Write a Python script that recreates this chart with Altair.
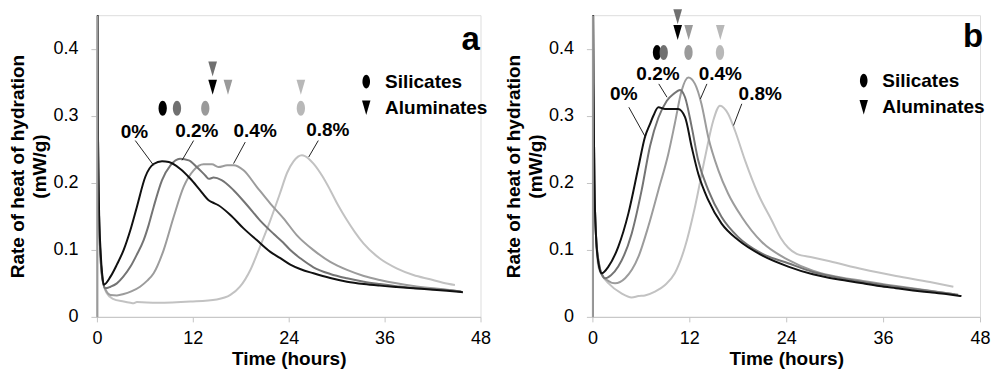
import altair as alt
import pandas as pd

FONT = "Liberation Sans"

series_names = ["0%", "0.2%", "0.4%", "0.8%"]
line_colors = ["#111111", "#747474", "#9c9c9c", "#c2c2c2"]
marker_colors = ["#000000", "#707070", "#9a9a9a", "#b8b8b8"]

# ---------------- Panel a : time (h) / rate (mW/g) ----------------
a_t_0 = [0, 0.02, 0.12, 0.25, 0.45, 0.65, 0.85, 1.7, 2.5, 3.35, 4.2, 5.0, 6.06, 7.1, 8.15, 9.0, 10.4, 11.7,
         12.9, 13.98, 14.4, 15.2, 16.7, 18.35, 20.0, 21.7, 22.9, 24.2, 25.5, 27.1, 29.2, 31.3, 33.4, 35.4,
         37.5, 39.6, 41.7, 43.8, 45.8]
a_r_0 = [0, 0.6, 0.3, 0.17, 0.1, 0.065, 0.048, 0.06, 0.078, 0.1, 0.13, 0.164, 0.209, 0.228, 0.232, 0.231,
         0.221, 0.206, 0.189, 0.174, 0.171, 0.1665, 0.152, 0.132, 0.1145, 0.097, 0.088, 0.078, 0.071, 0.065,
         0.058, 0.0525, 0.049, 0.0466, 0.0445, 0.0426, 0.041, 0.039, 0.0367]

a_t_2 = [0, 0.02, 0.12, 0.25, 0.45, 0.7, 1.06, 1.7, 2.5, 3.3, 4.2, 5.0, 5.85, 6.5, 7.1, 8.15, 9.2, 10.4,
         11.5, 12.5, 13.56, 14.0, 14.6, 15.6, 17.1, 18.8, 20.4, 22.1, 23.3, 24.2, 25.5, 27.1, 29.2, 31.3,
         33.4, 35.4, 37.5, 39.6, 41.7, 43.8, 45.6]
a_r_2 = [0, 0.6, 0.3, 0.16, 0.09, 0.055, 0.0427, 0.045, 0.05, 0.06, 0.075, 0.093, 0.1145, 0.138, 0.164,
         0.204, 0.226, 0.236, 0.2335, 0.2235, 0.211, 0.206, 0.2077, 0.204, 0.189, 0.1665, 0.144, 0.124,
         0.111, 0.0996, 0.087, 0.074, 0.064, 0.0575, 0.0525, 0.049, 0.0458, 0.043, 0.0415, 0.040, 0.038]

a_t_4 = [0, 0.02, 0.12, 0.25, 0.45, 0.8, 1.2, 1.7, 2.5, 3.35, 4.3, 5.4, 6.3, 7.1, 8.35, 9.6, 10.85, 12.1,
         13.35, 14.4, 15.2, 16.3, 17.1, 18.35, 20.0, 21.7, 23.35, 25.0, 27.1, 29.2, 31.3, 33.4, 35.4, 37.5,
         39.6, 41.7, 43.8, 45.5]
a_r_4 = [0, 0.6, 0.3, 0.16, 0.09, 0.05, 0.038, 0.0327, 0.032, 0.034, 0.038, 0.045, 0.054, 0.065, 0.0996,
         0.149, 0.194, 0.2186, 0.2275, 0.2275, 0.2235, 0.226, 0.226, 0.2186, 0.194, 0.169, 0.147, 0.122,
         0.0996, 0.082, 0.07, 0.061, 0.055, 0.050, 0.046, 0.043, 0.0405, 0.038]

a_t_8 = [0, 0.02, 0.12, 0.25, 0.45, 0.8, 1.2, 2.0, 3.35, 4.2, 4.6, 5.0, 7.5, 11.7, 15.0, 16.7, 17.9, 19.2,
         20.4, 21.7, 22.9, 23.8, 24.6, 25.65, 26.5, 27.1, 28.2, 29.2, 30.2, 31.3, 32.3, 33.35, 35.4, 37.5,
         39.6, 41.7, 43.3, 44.8]
a_r_8 = [0, 0.6, 0.3, 0.16, 0.09, 0.05, 0.036, 0.027, 0.0228, 0.021, 0.0204, 0.022, 0.021, 0.0228, 0.026,
         0.0327, 0.045, 0.07, 0.1045, 0.144, 0.184, 0.215, 0.232, 0.241, 0.236, 0.2285, 0.21, 0.189, 0.166,
         0.144, 0.126, 0.1095, 0.087, 0.0724, 0.0625, 0.056, 0.051, 0.0476]

# ---------------- Panel b ----------------
b_t_0 = [0, 0.02, 0.12, 0.25, 0.45, 0.75, 1.15, 1.98, 3.2, 4.45, 5.7, 6.5, 7.14, 7.55, 8.17, 9.0, 10.6,
         11.47, 12.3, 13.1, 14.35, 16.0, 18.06, 20.95, 24.25, 27.3, 29.4, 31.5, 33.5, 35.5, 37.6, 39.7,
         41.8, 43.8, 45.7]
b_r_0 = [0, 0.6, 0.35, 0.2, 0.12, 0.08, 0.065, 0.075, 0.1045, 0.154, 0.2235, 0.268, 0.288, 0.300, 0.3127,
         0.310, 0.310, 0.298, 0.253, 0.2137, 0.174, 0.139, 0.1145, 0.092, 0.075, 0.0635, 0.058, 0.054,
         0.050, 0.046, 0.0427, 0.0395, 0.0367, 0.034, 0.031]

b_t_2 = [0, 0.02, 0.12, 0.25, 0.45, 0.8, 1.2, 1.57, 2.3, 3.2, 4.86, 6.1, 7.14, 8.17, 9.2, 10.1, 10.85,
         11.47, 12.3, 13.1, 14.35, 16.0, 18.06, 20.95, 24.25, 27.3, 29.4, 33.5, 37.6, 41.8, 45.3]
b_r_2 = [0, 0.6, 0.35, 0.2, 0.12, 0.08, 0.063, 0.0575, 0.062, 0.075, 0.124, 0.189, 0.255, 0.297, 0.322,
         0.333, 0.3385, 0.3276, 0.283, 0.2335, 0.189, 0.149, 0.119, 0.0947, 0.080, 0.067, 0.061, 0.052,
         0.045, 0.0385, 0.033]

b_t_4 = [0, 0.02, 0.12, 0.25, 0.45, 0.8, 1.2, 1.8, 2.8, 4.05, 5.7, 6.9, 8.17, 9.4, 10.2, 11.05, 11.88,
         12.7, 13.5, 14.35, 15.6, 16.8, 18.5, 20.95, 24.25, 27.3, 29.4, 33.5, 37.6, 41.8, 44.9]
b_r_4 = [0, 0.6, 0.35, 0.2, 0.12, 0.08, 0.062, 0.055, 0.050, 0.0575, 0.0897, 0.134, 0.189, 0.243, 0.288,
         0.3375, 0.357, 0.3475, 0.318, 0.268, 0.2186, 0.184, 0.149, 0.112, 0.085, 0.069, 0.062, 0.0535,
         0.046, 0.039, 0.0335]

b_t_8 = [0, 0.02, 0.12, 0.25, 0.45, 0.74, 1.2, 2.0, 3.6, 4.86, 5.7, 6.5, 7.75, 9.0, 10.2, 11.47, 12.7,
         13.95, 14.97, 15.8, 16.8, 17.65, 18.9, 20.5, 22.2, 23.3, 24.25, 25.3, 27.3, 29.4, 33.5, 37.6,
         41.8, 44.7]
b_r_8 = [0, 0.6, 0.35, 0.2, 0.12, 0.075, 0.062, 0.05, 0.035, 0.029, 0.031, 0.032, 0.0377, 0.0476, 0.065,
         0.1045, 0.164, 0.238, 0.293, 0.315, 0.303, 0.278, 0.2335, 0.184, 0.144, 0.118, 0.103, 0.094,
         0.0887, 0.083, 0.071, 0.061, 0.052, 0.045]

# peak markers (silicates = ellipse, aluminates = triangle)
a_sil_t = [8.23, 10.02, 13.56, 25.52]
a_sil_r = [0.311, 0.311, 0.311, 0.311]
a_alu_t = [14.48, 14.48, 16.4, 25.52]
a_alu_r = [0.3425, 0.3698, 0.3425, 0.3425]

b_sil_t = [8.0, 8.83, 11.9, 15.8]
b_sil_r = [0.3945, 0.3945, 0.3945, 0.3945]
b_alu_t = [10.56, 10.56, 11.92, 15.84]
b_alu_r = [0.4242, 0.4475, 0.4242, 0.4242]

# series labels and their leader lines
a_lab_t = [4.69, 12.5, 19.8, 28.9]
a_lab_r = [0.2755, 0.2766, 0.2766, 0.278]
a_lead_t1 = [4.8, 12.1, 18.56, 27.7]
a_lead_r1 = [0.263, 0.263, 0.2607, 0.263]
a_lead_t2 = [7.1, 10.65, 17.1, 26.5]
a_lead_r2 = [0.226, 0.2335, 0.2286, 0.2384]

b_lab_t = [3.89, 8.12, 15.84, 20.78]
b_lab_r = [0.3326, 0.3623, 0.3623, 0.3326]
b_lead_t1 = [4.51, 8.22, 14.18, 18.5]
b_lead_r1 = [0.3127, 0.3475, 0.3475, 0.3178]
b_lead_t2 = [6.57, 9.24, 13.37, 17.48]
b_lead_r2 = [0.268, 0.3276, 0.325, 0.2855]

legend_names = ["Silicates", "Aluminates"]
a_leg = dict(sym_t=33.7, txt_t=36.06, r=[0.351, 0.312])
b_leg = dict(sym_t=33.6, txt_t=35.9, r=[0.3524, 0.3127])

ELLIPSE = "M0,-1 A0.55,1 0 1,1 0,1 A0.55,1 0 1,1 0,-1 Z"
TRIANGLE = "M-0.58,-1 L0.58,-1 L0,1 Z"

x_scale = alt.Scale(domain=[0, 48], nice=False, zero=False)
y_scale = alt.Scale(domain=[0, 0.45], nice=False)

x_axis = alt.Axis(values=[0, 12, 24, 36, 48], title="Time (hours)", grid=False,
                  labelFont=FONT, labelFontSize=18, labelColor="#000", labelPadding=8,
                  labelFlush=False, labelOverlap=False,
                  titleFont=FONT, titleFontSize=19, titleFontWeight="bold", titleColor="#000",
                  titlePadding=2, domainColor="#c4c4c4", tickColor="#c4c4c4", tickSize=5, zindex=1)
y_axis = alt.Axis(values=[0, 0.1, 0.2, 0.3, 0.4], title=["Rate of heat of hydration", "(mW/g)"],
                  grid=False, labelExpr="datum.value == 0 ? '0' : format(datum.value, '.1f')",
                  labelFont=FONT, labelFontSize=18, labelColor="#000", labelPadding=13,
                  labelOverlap=False,
                  titleFont=FONT, titleFontSize=19, titleFontWeight="bold", titleColor="#000",
                  titleLineHeight=22, titlePadding=3,
                  domainColor="#9a9a9a", domainWidth=2, tickColor="#c4c4c4", tickSize=6, zindex=1)


def panel(series, sil, alu, labels, leads, leg, letter, letter_t, letter_r, width):
    layers = []
    # lines, drawn light to dark so the black curve is on top
    for k in [3, 2, 1, 0]:
        t, r = series[k]
        df = pd.DataFrame({"t": t, "r": r, "i": list(range(len(t)))})
        layers.append(
            alt.Chart(df).mark_line(strokeWidth=2, clip=True, color=line_colors[k],
                                    interpolate="monotone").encode(
                x=alt.X("t:Q", scale=x_scale, axis=x_axis),
                y=alt.Y("r:Q", scale=y_scale, axis=y_axis),
                order=alt.Order("i:Q"),
            )
        )
    # leader lines
    ld = pd.DataFrame({"t1": leads[0], "r1": leads[1], "t2": leads[2], "r2": leads[3]})
    layers.append(alt.Chart(ld).mark_rule(color="#222222", strokeWidth=1).encode(
        x="t1:Q", y="r1:Q", x2="t2:Q", y2="r2:Q"))
    # labels
    lb = pd.DataFrame({"t": labels[0], "r": labels[1], "s": series_names})
    layers.append(alt.Chart(lb).mark_text(font=FONT, fontSize=19, fontWeight="bold", color="#000",
                                          align="center", baseline="middle").encode(
        x="t:Q", y="r:Q", text="s:N"))
    # peak markers
    sd = pd.DataFrame({"t": sil[0], "r": sil[1], "c": marker_colors})
    layers.append(alt.Chart(sd).mark_point(shape=ELLIPSE, filled=True, size=225, opacity=1,
                                           clip=False, strokeWidth=0).encode(
        x="t:Q", y="r:Q", color=alt.Color("c:N", scale=None)))
    ad = pd.DataFrame({"t": alu[0], "r": alu[1], "c": marker_colors})
    layers.append(alt.Chart(ad).mark_point(shape=TRIANGLE, filled=True, size=225, opacity=1,
                                           clip=False, strokeWidth=0).encode(
        x="t:Q", y="r:Q", color=alt.Color("c:N", scale=None)))
    # legend
    lgs = pd.DataFrame({"t": [leg["sym_t"]], "r": [leg["r"][0]]})
    lga = pd.DataFrame({"t": [leg["sym_t"]], "r": [leg["r"][1]]})
    layers.append(alt.Chart(lgs).mark_point(shape=ELLIPSE, filled=True, size=190, opacity=1,
                                            color="#000", strokeWidth=0).encode(x="t:Q", y="r:Q"))
    layers.append(alt.Chart(lga).mark_point(shape=TRIANGLE, filled=True, size=210, opacity=1,
                                            color="#000", strokeWidth=0).encode(x="t:Q", y="r:Q"))
    lt = pd.DataFrame({"t": [leg["txt_t"]] * 2, "r": leg["r"], "s": legend_names})
    layers.append(alt.Chart(lt).mark_text(font=FONT, fontSize=19, fontWeight="bold", color="#000",
                                          align="left", baseline="middle").encode(
        x="t:Q", y="r:Q", text="s:N"))
    # panel letter
    pl = pd.DataFrame({"t": [letter_t], "r": [letter_r], "s": [letter]})
    layers.append(alt.Chart(pl).mark_text(font=FONT, fontSize=33, fontWeight="bold", color="#000",
                                          align="right", baseline="alphabetic").encode(
        x="t:Q", y="r:Q", text="s:N"))
    return alt.layer(*layers).properties(width=width, height=302)


pa = panel([(a_t_0, a_r_0), (a_t_2, a_r_2), (a_t_4, a_r_4), (a_t_8, a_r_8)],
           (a_sil_t, a_sil_r), (a_alu_t, a_alu_r), (a_lab_t, a_lab_r),
           (a_lead_t1, a_lead_r1, a_lead_t2, a_lead_r2), a_leg, "a", 47.9, 0.3985, 384)
pb = panel([(b_t_0, b_r_0), (b_t_2, b_r_2), (b_t_4, b_r_4), (b_t_8, b_r_8)],
           (b_sil_t, b_sil_r), (b_alu_t, b_alu_r), (b_lab_t, b_lab_r),
           (b_lead_t1, b_lead_r1, b_lead_t2, b_lead_r2), b_leg, "b", 48.4, 0.402, 388)

chart = alt.hconcat(pa, pb, spacing=12).properties(
    padding={"left": 0, "top": 0, "right": 0, "bottom": 0}
).configure_view(strokeWidth=0).configure(background="white")

chart.save("out.html", embed_options={"renderer": "svg", "actions": False})
